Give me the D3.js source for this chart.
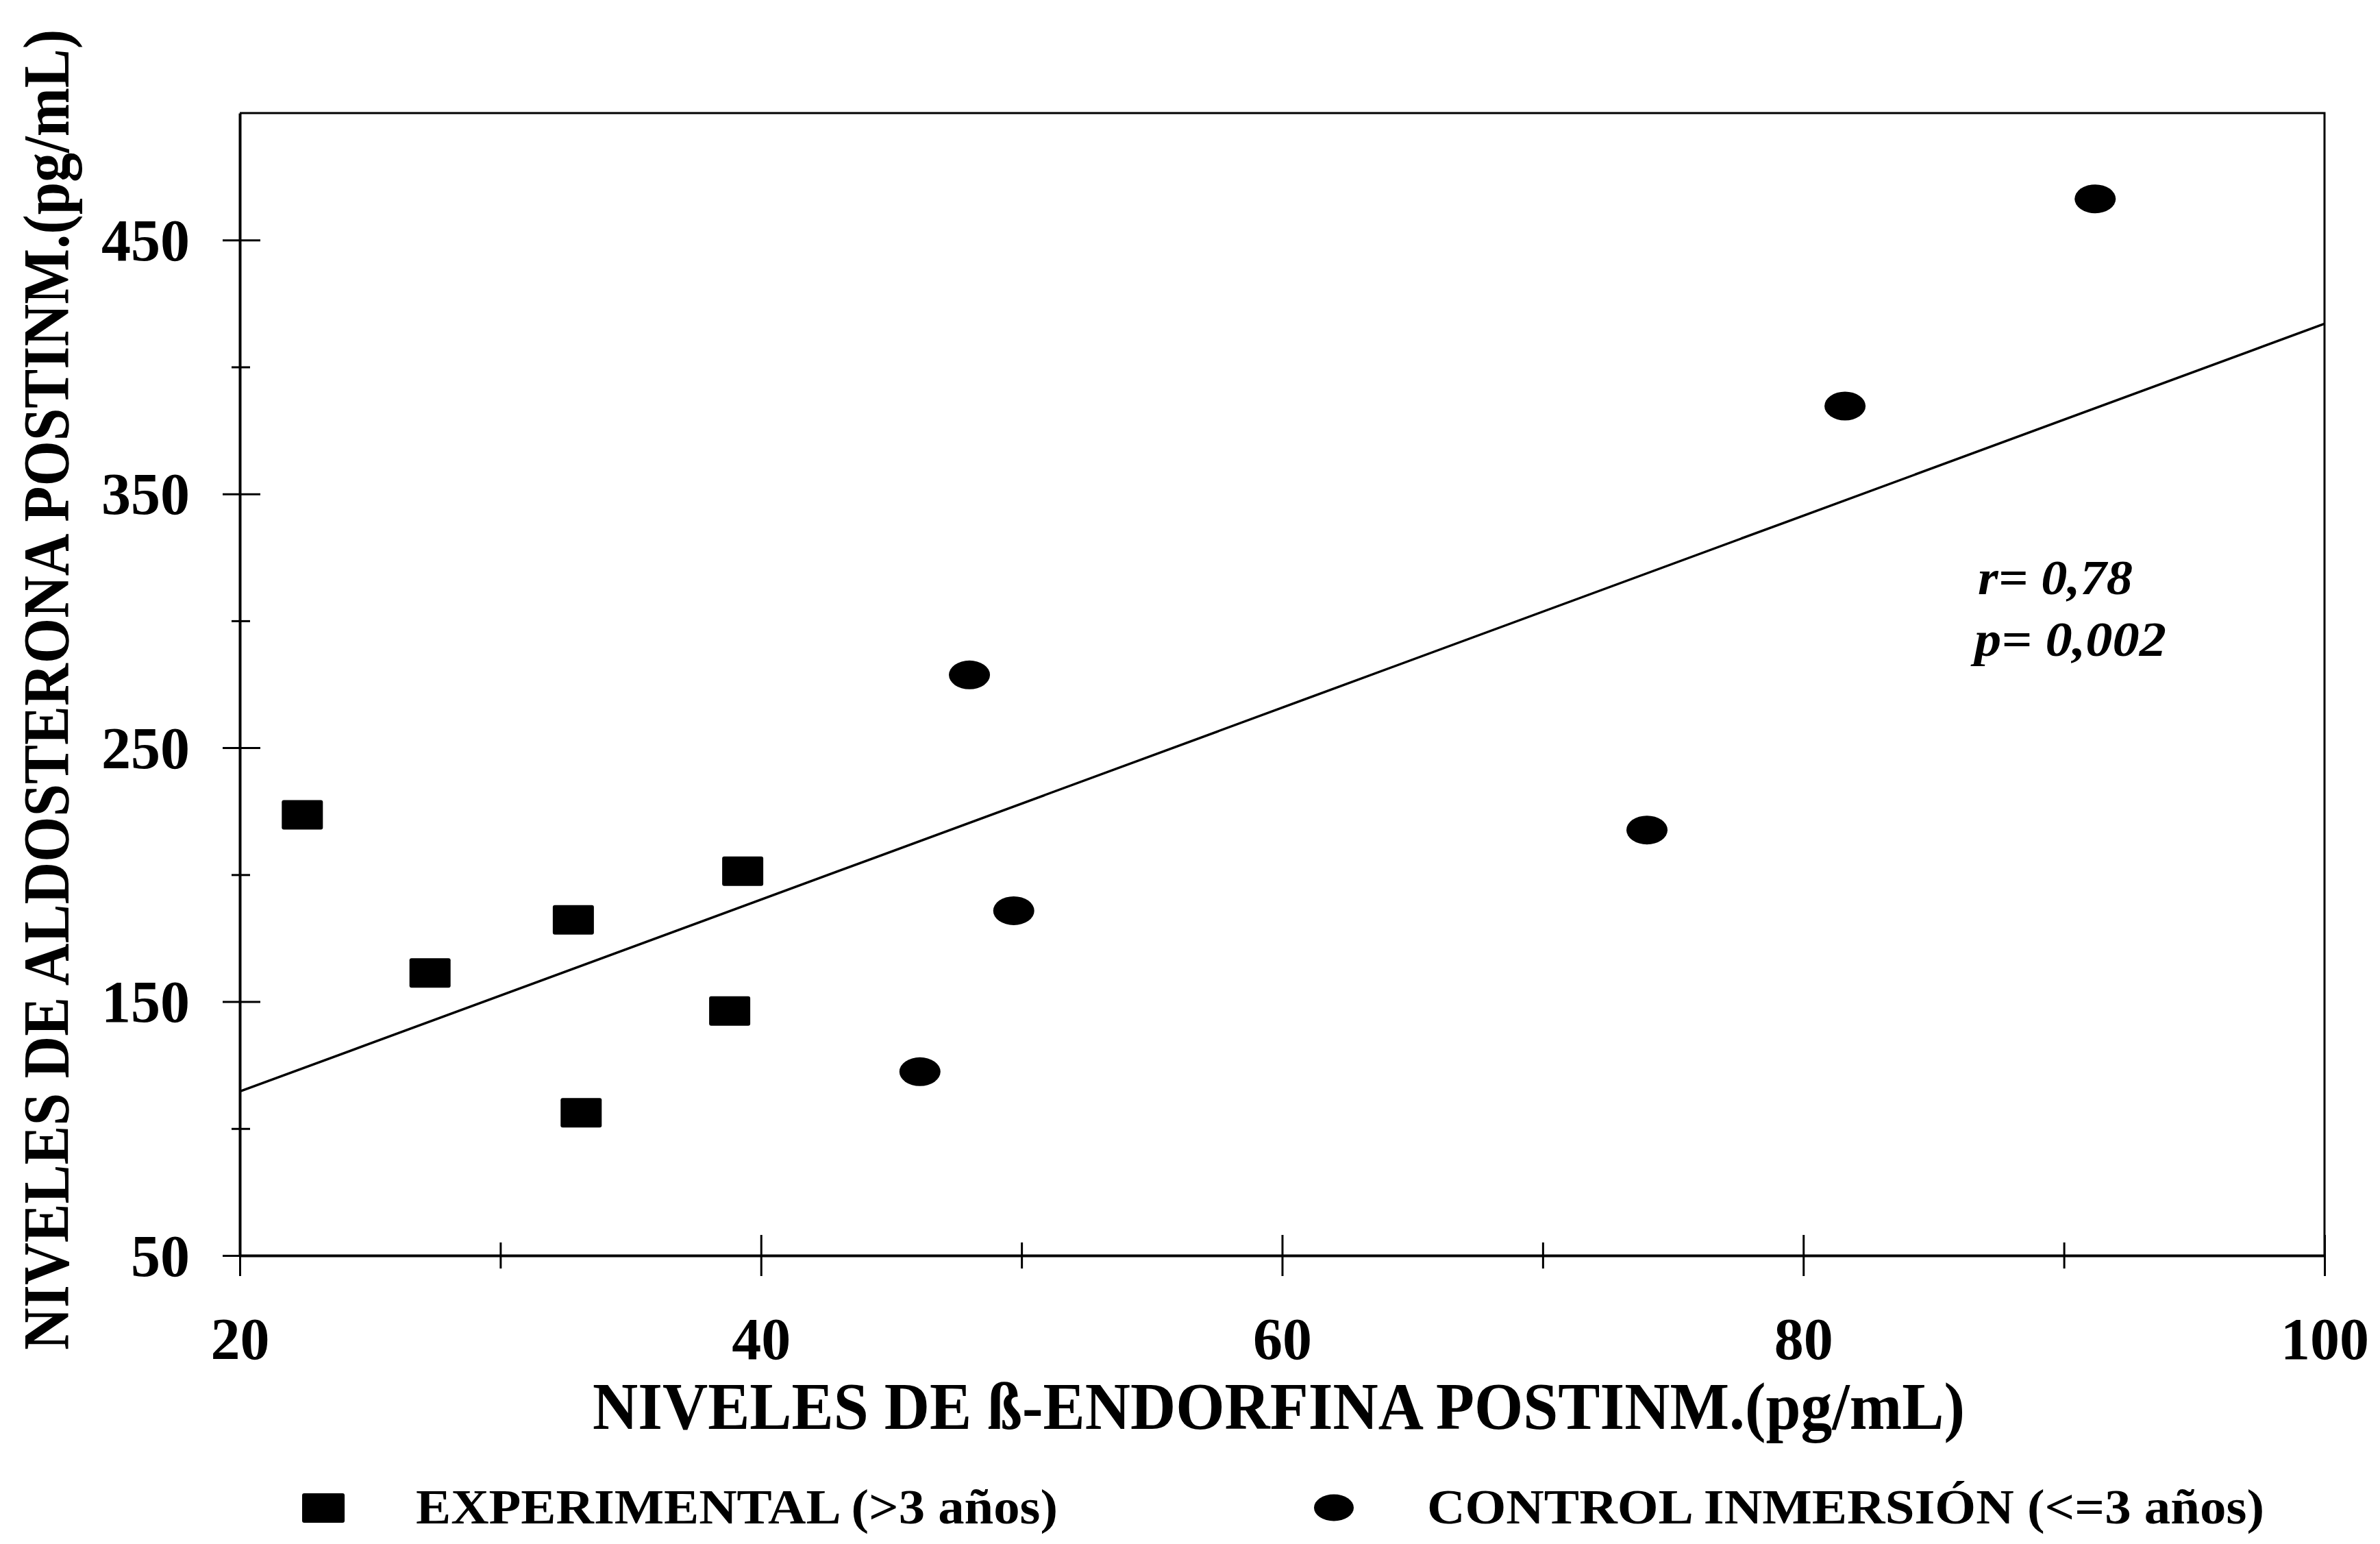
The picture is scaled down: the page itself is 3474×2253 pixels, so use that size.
<!DOCTYPE html>
<html>
<head>
<meta charset="utf-8">
<script src="https://cdn.jsdelivr.net/npm/d3@7"></script>
<style>
    body { margin: 0; background: #fff; }
    text { font-family: "Liberation Serif", "Times New Roman", serif; font-weight: bold; fill: #000; }
</style>
</head>
<body>
<div id="chart"></div>
<script>
// values
var expX = [22.4, 27.3, 32.8, 39.3, 38.8, 33.1];
var expY = [223.6, 161.3, 182.2, 201.4, 146.3, 106.2];
var ctrlX = [48.0, 49.7, 46.1, 74.0, 81.6, 91.2];
var ctrlY = [278.7, 185.8, 122.4, 217.6, 384.6, 466.2];
var fitX = [20, 100];
var fitY = [114.6, 417.0];

var xTicks = [20, 40, 60, 80, 100];
var xMinorTicks = [30, 50, 70, 90];
var yTicks = [50, 150, 250, 350, 450];
var yMinorTicks = [100, 200, 300, 400];

var xTitle = "NIVELES DE ß-ENDORFINA POSTINM.(pg/mL)";
var yTitle = "NIVELES DE ALDOSTERONA POSTINM.(pg/mL)";
var legendLabels = ["EXPERIMENTAL (>3 años)", "CONTROL INMERSIÓN (<=3 años)"];
var statLabels = ["r= 0,78", "p= 0,002"];

var W = 3474, H = 2253;
var margin = {top: 165, right: 81, bottom: 421, left: 350};
var width = W - margin.left - margin.right,
    height = H - margin.top - margin.bottom;

var svg = d3.select("#chart").append("svg")
    .attr("width", W)
    .attr("height", H);

svg.append("rect").attr("width", W).attr("height", H).attr("fill", "#fff");

var g = svg.append("g")
    .attr("transform", "translate(" + margin.left + "," + margin.top + ")");

var x = d3.scaleLinear().domain([20, 100]).range([0, width]);
var y = d3.scaleLinear().domain([50, 500]).range([height, 0]);

// frame (top and right)
g.append("path")
    .attr("d", "M0," + y(500) + "H" + x(100) + "V" + y(50))
    .attr("fill", "none")
    .attr("stroke", "#000")
    .attr("stroke-width", 3);

// x axis, major + minor ticks crossing the line
var xAxis = g.append("g")
    .attr("transform", "translate(0," + height + ")")
    .call(d3.axisBottom(x).tickValues(xTicks).tickSizeOuter(0));
xAxis.select(".domain").attr("stroke-width", 4);
xAxis.selectAll(".tick line").attr("y1", -30).attr("y2", 30).attr("stroke-width", 3);
xAxis.selectAll(".tick text")
    .attr("y", 151)
    .attr("dy", null)
    .attr("font-size", 86)
    .attr("font-family", "Liberation Serif")
    .attr("font-weight", "bold");

var xMinor = g.append("g")
    .attr("transform", "translate(0," + height + ")")
    .call(d3.axisBottom(x).tickValues(xMinorTicks).tickFormat(""));
xMinor.select(".domain").remove();
xMinor.selectAll(".tick line").attr("y1", -19).attr("y2", 19).attr("stroke-width", 3);

// y axis
var yAxis = g.append("g")
    .call(d3.axisLeft(y).tickValues(yTicks).tickSizeOuter(0));
yAxis.select(".domain").attr("stroke-width", 4);
yAxis.selectAll(".tick line").attr("x1", -25).attr("x2", 30).attr("stroke-width", 3);
yAxis.selectAll(".tick text")
    .attr("x", -73)
    .attr("dy", "0.34em")
    .attr("font-size", 86)
    .attr("font-family", "Liberation Serif")
    .attr("font-weight", "bold");

var yMinor = g.append("g")
    .call(d3.axisLeft(y).tickValues(yMinorTicks).tickFormat(""));
yMinor.select(".domain").remove();
yMinor.selectAll(".tick line").attr("x1", -12).attr("x2", 15).attr("stroke-width", 3);

// regression line
var line = d3.line()
    .x(function(d) { return x(d[0]); })
    .y(function(d) { return y(d[1]); });

g.append("path")
    .datum(d3.zip(fitX, fitY))
    .attr("d", line)
    .attr("fill", "none")
    .attr("stroke", "#000")
    .attr("stroke-width", 3.5);

// experimental: squares
g.selectAll(".exp")
    .data(d3.zip(expX, expY))
    .enter().append("rect")
    .attr("class", "exp")
    .attr("x", function(d) { return x(d[0]) - 30; })
    .attr("y", function(d) { return y(d[1]) - 21.5; })
    .attr("width", 60)
    .attr("height", 43)
    .attr("rx", 3)
    .attr("fill", "#000");

// control: ellipses
g.selectAll(".ctrl")
    .data(d3.zip(ctrlX, ctrlY))
    .enter().append("ellipse")
    .attr("class", "ctrl")
    .attr("cx", function(d) { return x(d[0]); })
    .attr("cy", function(d) { return y(d[1]); })
    .attr("rx", 30)
    .attr("ry", 21)
    .attr("fill", "#000");

// r / p annotation
g.selectAll(".stat")
    .data(statLabels)
    .enter().append("text")
    .attr("class", "stat")
    .attr("x", function(d, i) { return [2537, 2532][i]; })
    .attr("y", function(d, i) { return 702 + i * 90; })
    .attr("font-size", 72)
    .attr("font-style", "italic")
    .attr("textLength", function(d, i) { return [226, 280][i]; })
    .attr("lengthAdjust", "spacingAndGlyphs")
    .text(function(d) { return d; });

// axis titles
svg.append("text")
    .attr("x", 865)
    .attr("y", 2085)
    .attr("font-size", 97)
    .attr("textLength", 2003)
    .attr("lengthAdjust", "spacingAndGlyphs")
    .text(xTitle);

// y title is squeezed with a scale so its box stays inside the page
svg.append("text")
    .attr("transform", "translate(100,1970) rotate(-90) scale(0.89,1)")
    .attr("font-size", 96)
    .text(yTitle);

// legend
svg.append("rect")
    .attr("x", 441).attr("y", 2179)
    .attr("width", 62).attr("height", 43)
    .attr("rx", 3)
    .attr("fill", "#000");
svg.append("ellipse")
    .attr("cx", 1947).attr("cy", 2200)
    .attr("rx", 29).attr("ry", 19.5)
    .attr("fill", "#000");

svg.selectAll(".legend-text")
    .data(legendLabels)
    .enter().append("text")
    .attr("class", "legend-text")
    .attr("x", function(d, i) { return [607, 2083][i]; })
    .attr("y", 2223)
    .attr("font-size", 72)
    .attr("textLength", function(d, i) { return [937, 1222][i]; })
    .attr("lengthAdjust", "spacingAndGlyphs")
    .text(function(d) { return d; });
</script>
</body>
</html>
